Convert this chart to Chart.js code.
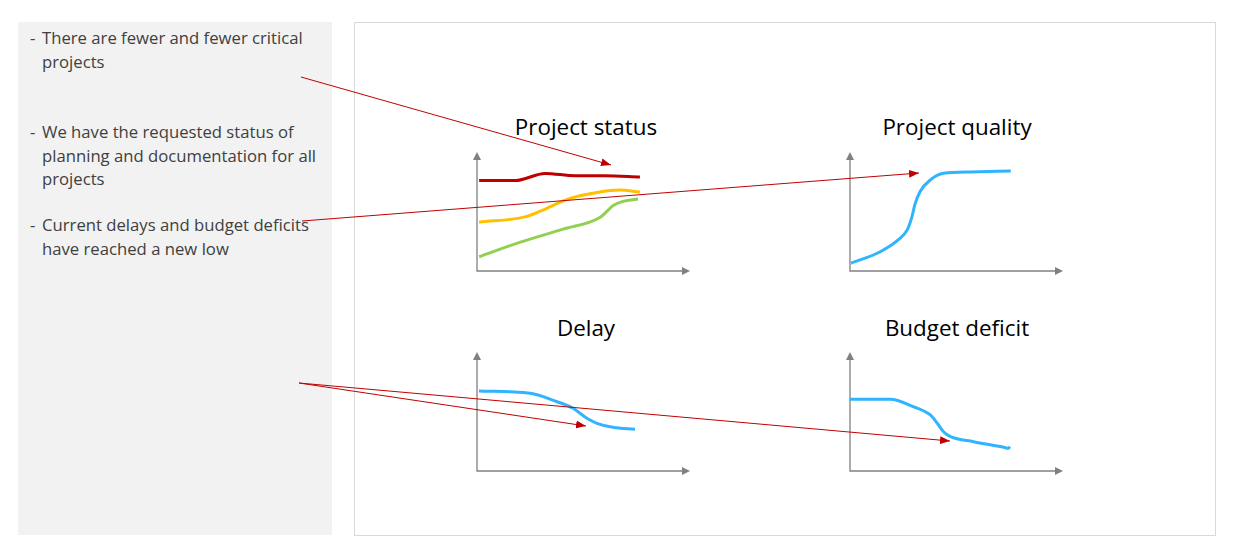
<!DOCTYPE html>
<html lang="en">
<head>
<meta charset="UTF-8">
<title>Project KPIs</title>
<script src="https://cdn.jsdelivr.net/npm/chart.js"></script>
<style>
    body { margin: 0; width: 1233px; height: 550px; background: #fff; position: relative; overflow: hidden; font-family: "Open Sans", "Noto Sans", sans-serif; }
    .side { position: absolute; left: 18px; top: 22px; width: 314px; height: 513px; background: #f2f2f2; }
    .bullet { position: absolute; left: 24px; width: 288px; font-size: 16.7px; line-height: 23.5px; color: #404040; }
    .bullet span.dash { position: absolute; left: -12px; }
    .frame { position: absolute; left: 354px; top: 22px; width: 860px; height: 512px; border: 1px solid #d9d9d9; }
    .title { position: absolute; width: 260px; text-align: center; font-size: 22.4px; color: #000; }
    canvas.mini { position: absolute; }
    svg.links { position: absolute; left: 0; top: 0; pointer-events: none; }
</style>
</head>
<body>
<div class="side">
    <div class="bullet" style="top:4px"><span class="dash">-</span>There are fewer and fewer critical projects</div>
    <div class="bullet" style="top:98px"><span class="dash">-</span>We have the requested status of planning and documentation for all projects</div>
    <div class="bullet" style="top:191px"><span class="dash">-</span>Current delays and budget deficits have reached a new low</div>
</div>
<div class="frame"></div>

<div class="title" style="left:456px; top:111px">Project status</div>
<div class="title" style="left:827px; top:111px">Project quality</div>
<div class="title" style="left:456px; top:312px">Delay</div>
<div class="title" style="left:827px; top:312px">Budget deficit</div>

<canvas class="mini" id="c1" width="229" height="135" style="left:469px; top:144px"></canvas>
<canvas class="mini" id="c2" width="229" height="135" style="left:842px; top:144px"></canvas>
<canvas class="mini" id="c3" width="229" height="135" style="left:469px; top:344px"></canvas>
<canvas class="mini" id="c4" width="229" height="135" style="left:842px; top:344px"></canvas>

<svg class="links" width="1233" height="550">
    <defs>
        <marker id="head" markerWidth="10" markerHeight="8" refX="10" refY="4" orient="auto" markerUnits="userSpaceOnUse">
            <path d="M0,0 L10,4 L0,8 z" fill="#c00000"></path>
        </marker>
    </defs>
    <g stroke="#c00000" stroke-width="1" fill="none" marker-end="url(#head)">
        <line x1="301" y1="77" x2="611" y2="165"></line>
        <line x1="302" y1="221" x2="919" y2="173"></line>
        <line x1="299" y1="383" x2="586" y2="426"></line>
        <line x1="299" y1="383" x2="950" y2="441"></line>
    </g>
</svg>

<script>
    // Project status
    const statusRedX = [1, 18, 32, 46, 60, 76.5];
    const statusRedY = [76, 76, 82, 80, 80, 79];
    const statusYellowX = [1, 22.5, 30, 42, 57.7, 67, 76.5];
    const statusYellowY = [41, 45.5, 50.5, 60, 66.4, 68, 66.4];
    const statusGreenX = [1, 20, 40, 57.7, 64, 68.5, 75.6];
    const statusGreenY = [12, 24, 35, 45, 55, 58.5, 60.5];

    // Project quality
    const qualityX = [0.5, 14.2, 22.6, 27, 29, 30.5, 33, 37.7, 43.9, 56.6, 75.5];
    const qualityY = [6.5, 16.2, 26.1, 35, 45, 56, 67, 76.5, 82.1, 83.2, 84];

    // Delay
    const delayX = [0.9, 24.9, 37.6, 45.1, 51.6, 56.3, 63.8, 74.2];
    const delayY = [67.2, 65.3, 58.2, 52.7, 44.3, 40.1, 36.7, 35];

    // Budget deficit
    const budgetX = [0, 18.9, 29.7, 37.7, 41, 43.9, 47.2, 58, 72.2, 74.5, 75];
    const budgetY = [60.3, 60.3, 54.1, 47.1, 40.1, 33, 28.8, 24.6, 19.9, 19.1, 20.4];

    function pts(xs, ys) {
        return xs.map((x, i) => ({ x: x, y: ys[i] }));
    }

    // arrow axes drawn under the lines
    const arrowAxes = {
        id: 'arrowAxes',
        beforeDatasetsDraw(chart) {
            const { ctx, chartArea: a } = chart;
            ctx.save();
            ctx.strokeStyle = '#808080';
            ctx.fillStyle = '#808080';
            ctx.lineWidth = 1.3;
            ctx.beginPath();
            ctx.moveTo(a.left, a.top + 6);
            ctx.lineTo(a.left, a.bottom);
            ctx.lineTo(a.right - 6, a.bottom);
            ctx.stroke();
            ctx.beginPath();
            ctx.moveTo(a.left, a.top);
            ctx.lineTo(a.left - 4, a.top + 8);
            ctx.lineTo(a.left + 4, a.top + 8);
            ctx.fill();
            ctx.beginPath();
            ctx.moveTo(a.right, a.bottom);
            ctx.lineTo(a.right - 8, a.bottom - 4);
            ctx.lineTo(a.right - 8, a.bottom + 4);
            ctx.fill();
            ctx.restore();
        }
    };

    function miniChart(id, sets) {
        new Chart(document.getElementById(id), {
            type: 'line',
            data: {
                datasets: sets.map(s => ({
                    data: pts(s.x, s.y),
                    borderColor: s.color,
                    borderWidth: 3,
                    pointRadius: 0,
                    cubicInterpolationMode: 'monotone',
                    fill: false
                }))
            },
            options: {
                responsive: false,
                animation: false,
                layout: { padding: 8 },
                plugins: { legend: { display: false }, tooltip: { enabled: false } },
                scales: {
                    x: { type: 'linear', min: 0, max: 100, display: false },
                    y: { min: 0, max: 100, display: false }
                }
            },
            plugins: [arrowAxes]
        });
    }

    miniChart('c1', [
        { x: statusRedX, y: statusRedY, color: '#c00000' },
        { x: statusYellowX, y: statusYellowY, color: '#ffc000' },
        { x: statusGreenX, y: statusGreenY, color: '#92d050' }
    ]);
    miniChart('c2', [{ x: qualityX, y: qualityY, color: '#30b4ff' }]);
    miniChart('c3', [{ x: delayX, y: delayY, color: '#30b4ff' }]);
    miniChart('c4', [{ x: budgetX, y: budgetY, color: '#30b4ff' }]);
</script>
</body>
</html>
